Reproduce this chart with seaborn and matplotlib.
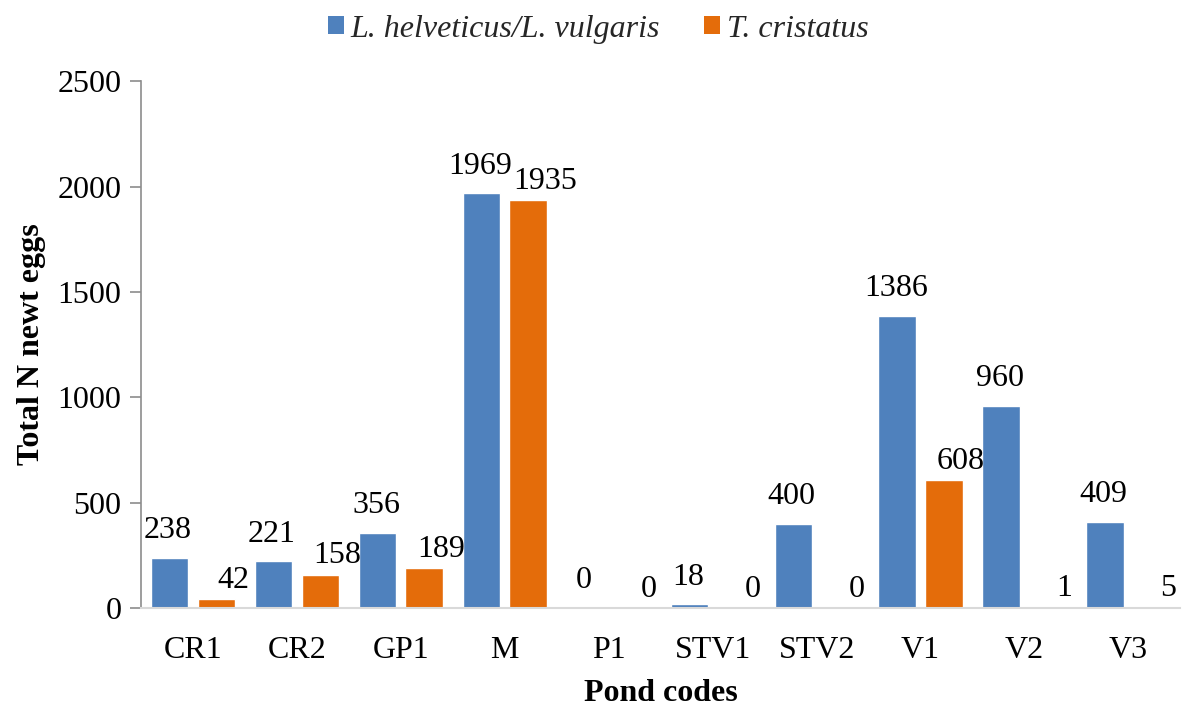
import pandas as pd
import numpy as np
import seaborn as sns
import matplotlib.pyplot as plt
from matplotlib.patches import Patch

ponds = ['CR1', 'CR2', 'GP1', 'M', 'P1', 'STV1', 'STV2', 'V1', 'V2', 'V3']
lissotriton = [238, 221, 356, 1969, 0, 18, 400, 1386, 960, 409]
triturus = [42, 158, 189, 1935, 0, 0, 0, 608, 1, 5]
species = ['L. helveticus/L. vulgaris', 'T. cristatus']
colors = ['#4F81BD', '#E46C0A']

df = pd.DataFrame({'pond': ponds * 2,
                   'species': [species[0]] * len(ponds) + [species[1]] * len(ponds),
                   'eggs': lissotriton + triturus})

sns.set_theme(style='white')
plt.rcParams['font.family'] = ['Liberation Serif', 'DejaVu Serif']
fs = 23

fig = plt.figure(figsize=(11.84, 7.06), dpi=100)
ax = fig.add_axes([0.119, 0.139, 0.878, 0.746])

sns.barplot(data=df, x='pond', y='eggs', hue='species', palette=colors,
            width=0.9, gap=0.2, legend=False, ax=ax, saturation=1)

# data labels, Excel style "outside end" (orange ones nudged right)
offsets = [(-1, 9), (12, 3)]
for i, cont in enumerate(ax.containers):
    for bar, val in zip(cont, [lissotriton, triturus][i]):
        ax.annotate(str(val), (bar.get_x() + bar.get_width() / 2, bar.get_height()),
                    xytext=offsets[i], textcoords='offset points',
                    ha='center', va='bottom', fontsize=fs, color='black')

ax.set_ylim(0, 2500)
ax.set_yticks(np.arange(0, 2501, 500))
ax.set_xlim(-0.5, len(ponds) - 0.5)
ax.tick_params(axis='y', which='major', length=8, width=1.2, color='#8C8C8C',
               direction='out', left=True, labelsize=fs, pad=6)
ax.tick_params(axis='x', length=0, labelsize=fs, pad=20)
for lab in ax.get_yticklabels() + ax.get_xticklabels():
    lab.set_color('black')

for s in ['top', 'right']:
    ax.spines[s].set_visible(False)
ax.spines['left'].set_color('#8C8C8C')
ax.spines['left'].set_linewidth(1.2)
ax.spines['bottom'].set_color('#D9D9D9')
ax.spines['bottom'].set_linewidth(1.5)

ax.set_xlabel('Pond codes', fontsize=fs, fontweight='bold', labelpad=10, color='black')
ax.set_ylabel('Total N newt eggs', fontsize=fs, fontweight='bold', labelpad=8, color='black')

handles = [Patch(facecolor=c, edgecolor='none') for c in colors]
fig.legend(handles, species, loc='upper center', bbox_to_anchor=(0.505, 1.02),
           ncol=2, frameon=False, prop={'size': fs, 'style': 'italic'},
           handlelength=0.5, handleheight=0.5, handletextpad=0.2, columnspacing=1.4)

fig.savefig('out.png', dpi=100)
